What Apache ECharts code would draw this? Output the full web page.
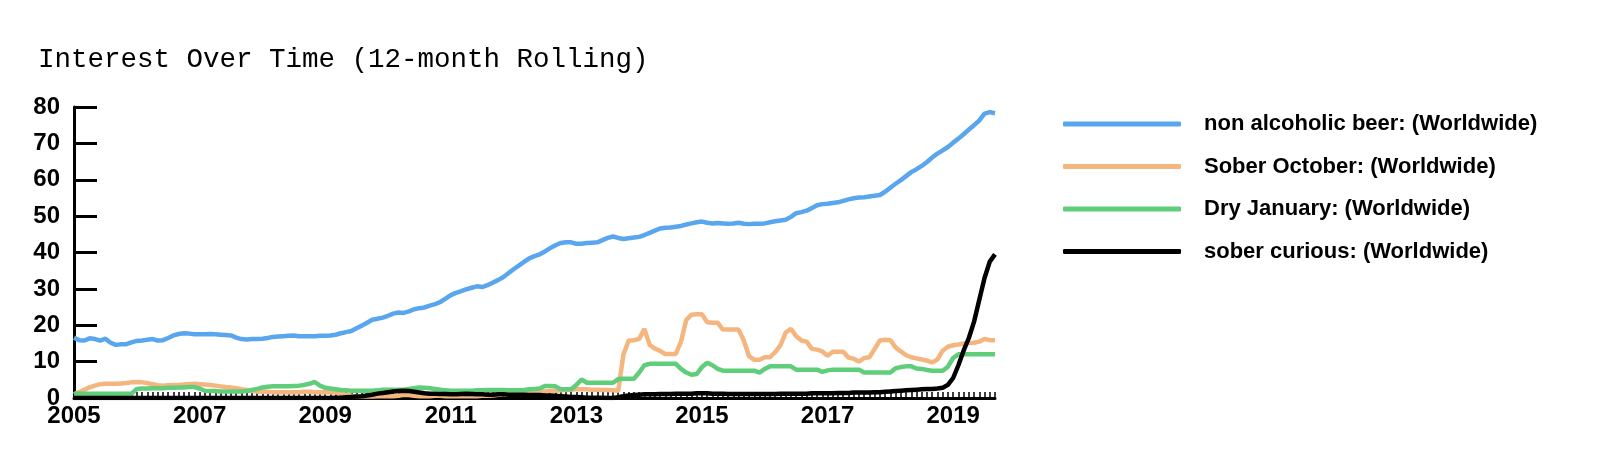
<!DOCTYPE html>
<html>
<head>
<meta charset="utf-8">
<script src="https://cdn.jsdelivr.net/npm/echarts@6/dist/echarts.min.js"></script>
<style>
  html, body { margin: 0; padding: 0; background: #fff; }
  #chart { width: 1600px; height: 475px; }
</style>
</head>
<body>
<div id="chart"></div>
<script>
// monthly, Jan 2005 - Sep 2019 (12-month rolling)
var startYear = 2005;
var monthCount = 177;
var titleText = 'Interest Over Time (12-month Rolling)';
var seriesNames = [
  'non alcoholic beer: (Worldwide)',
  'Sober October: (Worldwide)',
  'Dry January: (Worldwide)',
  'sober curious: (Worldwide)'
];
var seriesColors = ['#5aa6ee', '#f4b67e', '#5fcd79', '#000000'];
var yTicks = [0, 10, 20, 30, 40, 50, 60, 70, 80];

var beer = [
  16.6, 15.9, 15.8, 16.4, 16.2, 15.8, 16.3, 15.2, 14.6, 14.8, 14.8, 15.3,
  15.7, 15.8, 16.0, 16.2, 15.8, 15.9, 16.5, 17.2, 17.6, 17.8, 17.7, 17.5,
  17.5, 17.5, 17.6, 17.5, 17.4, 17.3, 17.2, 16.6, 16.2, 16.1, 16.2, 16.2,
  16.3, 16.5, 16.8, 16.9, 17.0, 17.1, 17.2, 17.0, 17.0, 17.0, 17.0, 17.1,
  17.1, 17.2, 17.4, 17.8, 18.1, 18.4, 19.2, 19.9, 20.7, 21.5, 21.8, 22.1,
  22.6, 23.2, 23.5, 23.4, 23.8, 24.4, 24.7, 24.9, 25.4, 25.8, 26.4, 27.3,
  28.3, 28.9, 29.4, 29.9, 30.3, 30.7, 30.5, 31.0, 31.7, 32.4, 33.2, 34.3,
  35.4, 36.4, 37.4, 38.4, 39.0, 39.5, 40.3, 41.2, 42.0, 42.6, 42.8, 42.8,
  42.4, 42.4, 42.6, 42.7, 42.8, 43.4, 44.0, 44.4, 44.0, 43.7, 43.9, 44.1,
  44.3, 44.8, 45.4, 46.0, 46.6, 46.8, 46.9, 47.1, 47.3, 47.7, 48.0, 48.3,
  48.5, 48.2, 48.0, 48.1, 48.0, 47.9, 48.0, 48.2, 47.9, 47.8, 47.9, 47.9,
  48.0, 48.3, 48.6, 48.8, 49.0, 49.8, 50.8, 51.1, 51.5, 52.2, 53.0, 53.3,
  53.4, 53.6, 53.8, 54.2, 54.6, 54.9, 55.1, 55.2, 55.4, 55.6, 55.8, 56.7,
  57.8, 58.9, 59.9, 61.0, 62.1, 62.9, 63.8, 64.9, 66.1, 67.2, 68.1, 69.0,
  70.2, 71.3, 72.5, 73.8, 75.0, 76.3, 78.2, 78.6, 78.3
];

var soberOctober = [
  1.0, 1.6, 2.3, 2.9, 3.4, 3.8, 3.9, 3.9, 3.9, 4.0, 4.1, 4.3,
  4.4, 4.3, 4.1, 3.8, 3.5, 3.4, 3.5, 3.6, 3.6, 3.7, 3.8, 3.9,
  3.8, 3.7, 3.6, 3.4, 3.2, 3.0, 2.9, 2.7, 2.4, 2.2, 1.9, 1.8,
  1.7, 1.7, 1.6, 1.6, 1.6, 1.6, 1.6, 1.6, 1.7, 1.7, 1.6, 1.6,
  1.6, 1.6, 1.5, 1.3, 0.9, 0.6, 0.5, 0.4, 0.4, 0.4, 0.5, 0.5,
  0.5, 0.5, 0.6, 0.9, 0.8, 0.6, 0.5, 0.5, 0.5, 0.6, 0.6, 0.5,
  0.5, 0.5, 0.5, 0.5, 0.5, 0.5, 0.6, 0.6, 0.7, 0.9, 1.0, 1.1,
  1.2, 1.3, 1.4, 1.5, 1.6, 1.7, 1.8, 1.9, 2.0, 2.1, 2.2, 2.3,
  2.4, 2.4, 2.4, 2.3, 2.3, 2.2, 2.2, 2.1, 2.0, 12.0, 15.8, 15.9,
  16.2, 19.0, 14.6, 13.6, 12.9, 12.1, 12.1, 12.1, 15.5, 21.5, 22.9, 23.0,
  23.0, 20.8, 20.7, 20.7, 18.8, 18.8, 18.8, 18.8, 15.8, 11.5, 10.5, 10.5,
  11.2, 11.2, 12.6, 14.5, 18.0, 19.0, 17.0, 15.8, 15.5, 13.5, 13.3, 12.8,
  11.6, 12.7, 12.7, 12.7, 11.1, 10.8, 10.0, 11.0, 11.2, 13.5, 15.8, 16.0,
  15.9, 13.9, 12.8, 11.8, 11.2, 10.9, 10.6, 10.3, 9.8, 10.6, 13.0, 14.1,
  14.5, 14.7, 15.0, 15.1, 15.2, 15.5, 16.2, 15.9, 15.9
];

var dryJanuary = [
  1.2, 1.2, 1.2, 1.2, 1.2, 1.2, 1.2, 1.2, 1.2, 1.2, 1.2, 1.2,
  2.5, 2.6, 2.6, 2.7, 2.7, 2.7, 2.8, 2.8, 2.9, 2.9, 3.0, 3.0,
  2.6, 2.0, 1.9, 1.9, 1.8, 1.8, 1.8, 1.8, 1.8, 1.9, 2.2, 2.5,
  2.9, 3.1, 3.2, 3.2, 3.2, 3.2, 3.3, 3.4, 3.6, 3.9, 4.4, 3.4,
  2.8, 2.6, 2.4, 2.2, 2.1, 2.0, 2.0, 2.0, 2.0, 2.0, 2.1, 2.3,
  2.3, 2.3, 2.3, 2.3, 2.5, 2.7, 2.9, 2.8, 2.7, 2.5, 2.3, 2.1,
  2.0, 2.0, 2.0, 2.0, 2.0, 2.1, 2.1, 2.2, 2.2, 2.2, 2.2, 2.1,
  2.1, 2.1, 2.2, 2.4, 2.5, 2.6, 3.3, 3.3, 3.2, 2.4, 2.4, 2.4,
  3.6, 5.1, 4.2, 4.2, 4.2, 4.2, 4.2, 4.2, 5.2, 5.3, 5.3, 5.3,
  7.0, 9.0, 9.4, 9.4, 9.4, 9.4, 9.4, 9.4, 8.0, 7.0, 6.4, 6.6,
  8.5, 9.7, 9.0, 8.0, 7.5, 7.5, 7.5, 7.5, 7.5, 7.5, 7.5, 7.0,
  8.0, 8.7, 8.7, 8.7, 8.7, 8.7, 7.8, 7.8, 7.8, 7.8, 7.8, 7.2,
  7.6, 7.8, 7.8, 7.8, 7.8, 7.8, 7.8, 7.0, 7.0, 7.0, 7.0, 7.0,
  7.0, 8.2, 8.5, 8.7, 8.7, 8.1, 8.0, 7.7, 7.5, 7.5, 7.5, 8.6,
  11.0, 12.0, 12.0, 12.0, 12.0, 12.0, 12.0, 12.0, 12.0
];

var soberCurious = [
  0, 0, 0, 0, 0, 0, 0, 0, 0, 0, 0, 0,
  0, 0, 0, 0, 0, 0, 0, 0, 0, 0, 0, 0,
  0, 0, 0, 0, 0, 0, 0, 0, 0, 0, 0, 0,
  0, 0, 0, 0, 0, 0, 0, 0, 0, 0, 0, 0,
  0, 0, 0.1, 0.1, 0.2, 0.3, 0.4, 0.5, 0.7, 0.9, 1.2, 1.4,
  1.6, 1.8, 1.9, 2.0, 1.9, 1.7, 1.5, 1.3, 1.2, 1.2, 1.1, 1.1,
  1.0, 1.0, 1.1, 1.2, 1.1, 1.0, 1.0, 0.9, 0.9, 1.0, 1.0, 0.9,
  0.9, 0.9, 0.9, 0.8, 0.8, 0.8, 0.7, 0.7, 0.6, 0.5, 0.4, 0.3,
  0.3, 0.2, 0.1, 0.1, 0.1, 0.1, 0.0, 0.0, 0.2, 0.5, 0.7, 0.8,
  0.9, 1.0, 1.0, 1.0, 1.1, 1.1, 1.1, 1.2, 1.2, 1.2, 1.2, 1.3,
  1.3, 1.3, 1.2, 1.2, 1.2, 1.1, 1.1, 1.1, 1.1, 1.1, 1.1, 1.1,
  1.1, 1.1, 1.1, 1.2, 1.2, 1.2, 1.2, 1.2, 1.2, 1.3, 1.3, 1.3,
  1.3, 1.3, 1.4, 1.4, 1.4, 1.5, 1.5, 1.5, 1.5, 1.6, 1.6, 1.7,
  1.8, 1.9, 2.0, 2.1, 2.2, 2.3, 2.4, 2.5, 2.5, 2.6, 2.8, 3.6,
  5.5, 9.0, 13.0, 16.5, 21.0, 27.0, 33.0, 37.5, 39.5
];

var months = [];
for (var i = 0; i < monthCount; i++) {
  var y = startYear + Math.floor(i / 12);
  var m = (i % 12) + 1;
  months.push(y + '-' + (m < 10 ? '0' + m : m));
}

var labelFont = "'Liberation Sans', Arial, sans-serif";

var chart = echarts.init(document.getElementById('chart'));
var allData = [beer, soberOctober, dryJanuary, soberCurious];

chart.setOption({
  animation: false,
  backgroundColor: '#fff',
  title: {
    text: titleText,
    left: 33,
    top: 41,
    textStyle: {
      fontFamily: "'Liberation Mono', 'Courier New', monospace",
      fontSize: 27.5,
      fontWeight: 'normal',
      color: '#000'
    }
  },
  legend: {
    orient: 'vertical',
    left: 1058,
    top: 104,
    itemWidth: 118,
    itemHeight: 5,
    itemGap: 12.5,
    icon: 'roundRect',
    data: seriesNames,
    textStyle: {
      fontFamily: labelFont,
      fontSize: 22,
      fontWeight: 'bold',
      color: '#000',
      lineHeight: 30,
      padding: [0, 0, 0, 18]
    }
  },
  grid: {
    left: 74,
    right: 605,
    top: 107,
    bottom: 77
  },
  xAxis: {
    type: 'category',
    data: months,
    boundaryGap: false,
    axisLine: { lineStyle: { color: '#000', width: 3 } },
    axisTick: {
      show: true,
      inside: true,
      interval: 0,
      length: 6,
      lineStyle: { color: '#000', width: 1.5 }
    },
    axisLabel: {
      interval: 23,
      margin: 6,
      fontFamily: labelFont,
      fontSize: 24,
      fontWeight: 'bold',
      color: '#000',
      formatter: function (v) { return v.slice(0, 4); }
    },
    splitLine: { show: false }
  },
  yAxis: {
    type: 'value',
    min: yTicks[0],
    max: yTicks[yTicks.length - 1],
    interval: yTicks[1] - yTicks[0],
    axisLine: { show: true, lineStyle: { color: '#000', width: 3 } },
    axisTick: {
      show: true,
      inside: true,
      length: 23,
      lineStyle: { color: '#000', width: 3 }
    },
    axisLabel: {
      margin: 14,
      fontFamily: labelFont,
      fontSize: 24,
      fontWeight: 'bold',
      color: '#000'
    },
    splitLine: { show: false }
  },
  series: seriesNames.map(function (name, k) {
    return {
      name: name,
      type: 'line',
      data: allData[k],
      showSymbol: false,
      symbol: 'none',
      color: seriesColors[k],
      lineStyle: { color: seriesColors[k], width: 4.5 },
      z: 2 + k
    };
  })
});
</script>
</body>
</html>
